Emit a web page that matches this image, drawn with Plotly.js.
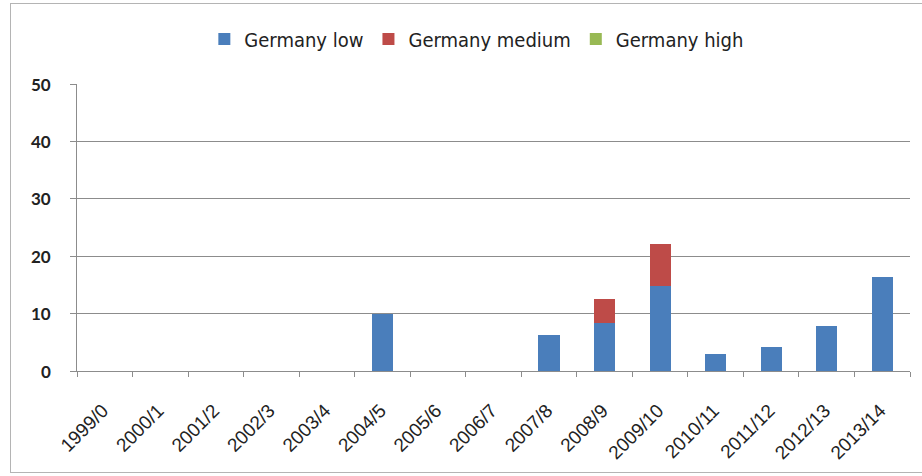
<!DOCTYPE html>
<html>
<head>
<meta charset="utf-8">
<script src="https://cdn.plot.ly/plotly-3.0.1.min.js"></script>
<style>
  html, body { margin: 0; padding: 0; background: #fff; }
  #frame { position: absolute; left: 10px; top: 3px; width: 920px; height: 470px; border: 1px solid #b4b4b4; box-sizing: border-box; }
  #chart { position: absolute; left: 0; top: 0; width: 922px; height: 476px; }
</style>
</head>
<body>
<div id="frame"></div>
<div id="chart"></div>
<script>
// Academic years on the category axis
const years = ["1999/0", "2000/1", "2001/2", "2002/3", "2003/4", "2004/5", "2005/6", "2006/7",
               "2007/8", "2008/9", "2009/10", "2010/11", "2011/12", "2012/13", "2013/14"];

// Stacked series
const germanyLow    = [0, 0, 0, 0, 0, 10, 0, 0, 6.3, 8.4, 14.8, 2.9, 4.1, 7.9, 16.3];
const germanyMedium = [0, 0, 0, 0, 0, 0, 0, 0, 0, 4.1, 7.4, 0, 0, 0, 0];
const germanyHigh   = [0, 0, 0, 0, 0, 0, 0, 0, 0, 0, 0, 0, 0, 0, 0];

const yTicks = [0, 10, 20, 30, 40, 50];

const traces = [
  { type: "bar", name: "Germany low",    x: years, y: germanyLow,    marker: { color: "#4a7ebb" } },
  { type: "bar", name: "Germany medium", x: years, y: germanyMedium, marker: { color: "#be4b48" } },
  { type: "bar", name: "Germany high",   x: years, y: germanyHigh,   marker: { color: "#98b954" } }
];

// Value-axis labels, set a little further from the axis line than the default tick labels
const yLabels = yTicks.map(v => ({
  xref: "paper", yref: "y",
  x: -0.029, y: v,
  xanchor: "right", yanchor: "middle",
  text: String(v),
  showarrow: false,
  font: { family: "Lato, 'Open Sans', sans-serif", size: 17, color: "#222", weight: "bold" }
}));

const layout = {
  width: 922,
  height: 476,
  margin: { l: 77, r: 12, t: 84, b: 105 },
  paper_bgcolor: "rgba(0,0,0,0)",
  plot_bgcolor: "rgba(0,0,0,0)",
  barmode: "stack",
  bargap: 0.62,
  showlegend: true,
  legend: {
    orientation: "h",
    traceorder: "normal",
    x: 0.48, xanchor: "center",
    y: 1.157, yanchor: "middle",
    font: { family: "'DejaVu Sans Condensed', 'Liberation Sans', sans-serif", size: 20, color: "#222" },
    itemwidth: 30,
    tracegroupgap: 0
  },
  xaxis: {
    type: "category",
    tickangle: -45,
    tickson: "boundaries",
    ticks: "outside",
    ticklen: 5,
    tickcolor: "#8c8c8c",
    ticklabelstandoff: 20,
    ticklabelshift: -2,
    showline: true,
    linecolor: "#8c8c8c",
    linewidth: 1,
    showgrid: false,
    tickfont: { family: "'Liberation Sans', Arial, sans-serif", size: 19, color: "#222" }
  },
  yaxis: {
    range: [0, 50],
    tickvals: yTicks,
    ticks: "outside",
    ticklen: 6,
    tickwidth: 1,
    tickcolor: "#8c8c8c",
    showticklabels: false,
    showline: true,
    linecolor: "#8c8c8c",
    showgrid: true,
    gridcolor: "#8c8c8c",
    gridwidth: 1,
    zeroline: false
  },
  annotations: yLabels
};

Plotly.newPlot("chart", traces, layout, { displayModeBar: false, staticPlot: true });
</script>
</body>
</html>
